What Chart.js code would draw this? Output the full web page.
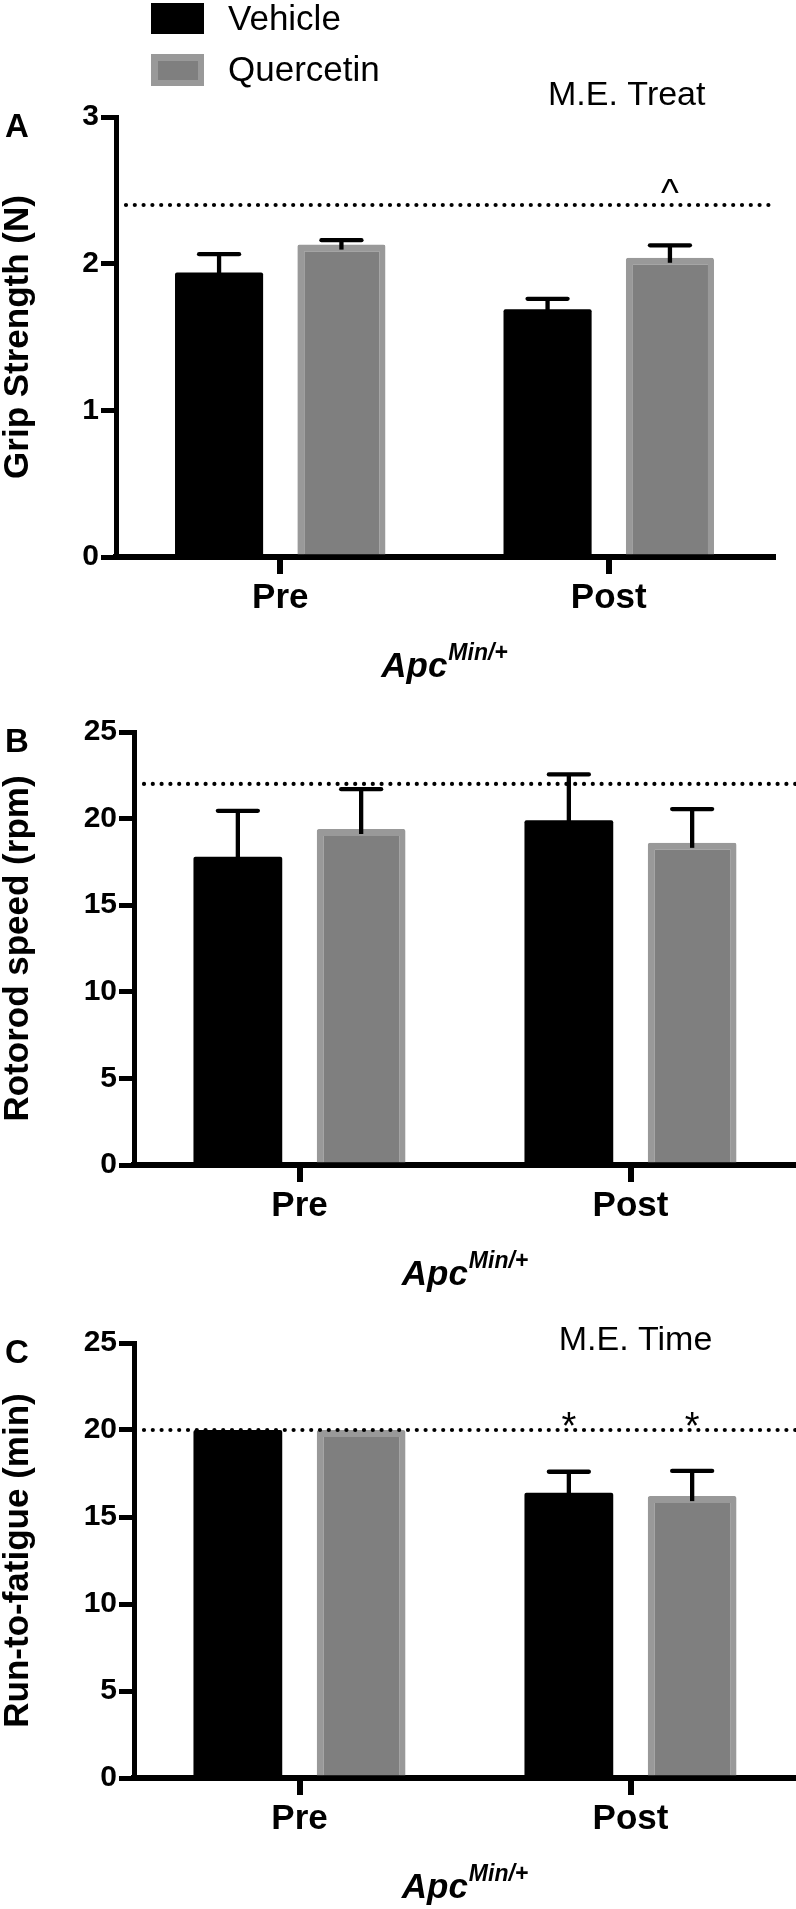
<!DOCTYPE html>
<html><head><meta charset="utf-8">
<script src="https://cdn.jsdelivr.net/npm/chart.js@4.4.1/dist/chart.umd.min.js"></script>
<style>
html,body{margin:0;padding:0;background:#fff;}
body{width:796px;height:1909px;position:relative;overflow:hidden;}
canvas{position:absolute;left:0;}
</style></head><body>
<canvas id="cA" width="796" height="700" style="top:0px"></canvas>
<canvas id="cB" width="796" height="610" style="top:700px"></canvas>
<canvas id="cC" width="796" height="599" style="top:1310px"></canvas>
<script>
// ---------- data ----------
const categories = ['Pre', 'Post'];
const seriesNames = ['Vehicle', 'Quercetin'];

// Panel A: grip strength (N)
const gripVehicle = [1.94, 1.69];
const gripVehicleSEM = [0.125, 0.07];
const gripQuercetin = [2.13, 2.04];
const gripQuercetinSEM = [0.03, 0.085];
const gripTicks = [0, 1, 2, 3];
const gripReference = 2.4;

// Panel B: rotorod speed (rpm)
const rotoVehicle = [17.8, 19.9];
const rotoVehicleSEM = [2.65, 2.65];
const rotoQuercetin = [19.4, 18.6];
const rotoQuercetinSEM = [2.3, 1.95];
const rotoTicks = [0, 5, 10, 15, 20, 25];
const rotoReference = 22;

// Panel C: run-to-fatigue (min)
const runVehicle = [20, 16.4];
const runVehicleSEM = [0, 1.2];
const runQuercetin = [20, 16.2];
const runQuercetinSEM = [0, 1.45];
const runTicks = [0, 5, 10, 15, 20, 25];
const runReference = 20;

const FONT = '"Liberation Sans", Arial, Helvetica, sans-serif';

// ---------- plugin for extras ----------
const extrasPlugin = {
  id: 'extras',
  afterDatasetsDraw(chart, args, p) {
    const ctx = chart.ctx, ys = chart.scales.y, area = chart.chartArea;
    // error bars (upper only)
    chart.data.datasets.forEach((ds, di) => {
      const meta = chart.getDatasetMeta(di);
      meta.data.forEach((bar, i) => {
        const sem = ds.sem[i];
        if (!sem) return;
        const yTop = ys.getPixelForValue(ds.data[i] + sem);
        const yBase = ys.getPixelForValue(ds.data[i]);
        ctx.save();
        ctx.strokeStyle = '#000';
        ctx.lineWidth = 4.3;
        ctx.beginPath(); ctx.moveTo(bar.x, yBase + 5); ctx.lineTo(bar.x, yTop); ctx.stroke();
        ctx.lineCap = 'round';
        ctx.beginPath(); ctx.moveTo(bar.x - 20, yTop); ctx.lineTo(bar.x + 20, yTop); ctx.stroke();
        ctx.restore();
      });
    });
    // dotted reference line
    const yr = ys.getPixelForValue(p.ref);
    ctx.save();
    ctx.strokeStyle = '#000';
    ctx.lineWidth = 4.2;
    ctx.lineCap = 'round';
    ctx.setLineDash([0, 8.8]);
    ctx.beginPath(); ctx.moveTo(area.left + 10, yr); ctx.lineTo(area.right, yr); ctx.stroke();
    ctx.restore();
  },
  afterDraw(chart, args, p) {
    const ctx = chart.ctx, ys = chart.scales.y, xs = chart.scales.x, area = chart.chartArea;
    ctx.save();
    ctx.fillStyle = '#000';
    // panel letter
    ctx.font = 'bold 33px ' + FONT;
    ctx.textAlign = 'left'; ctx.textBaseline = 'alphabetic';
    ctx.fillText(p.letter, 5, area.top + 20);
    // significance marks above bars
    ctx.font = '38px ' + FONT;
    ctx.textAlign = 'center';
    (p.marks || []).forEach(m => {
      const bar = chart.getDatasetMeta(m.dataset).data[m.index];
      ctx.fillText(m.text, bar.x, ys.getPixelForValue(m.value));
    });
    // notes
    ctx.font = '34px ' + FONT;
    (p.notes || []).forEach(n => {
      ctx.fillText(n.text, xs.getPixelForValue(n.index) + n.dx, ys.getPixelForValue(n.value));
    });
    // x axis title: Apc^Min/+
    ctx.textAlign = 'left';
    const mainFont = 'italic bold 35px ' + FONT, supFont = 'italic bold 23px ' + FONT;
    ctx.font = mainFont; const w1 = ctx.measureText('Apc').width;
    ctx.font = supFont; const w2 = ctx.measureText('Min/+').width;
    const cx = (area.left + area.right) / 2;
    const sx = cx - (w1 + w2 + 1) / 2;
    const base = area.bottom + 120;
    ctx.font = mainFont; ctx.fillText('Apc', sx, base);
    ctx.font = supFont; ctx.fillText('Min/+', sx + w1 + 1, base - 17);
    // legend
    if (p.legend) {
      chart.data.datasets.forEach((ds, i) => {
        const bx = 151, by = 3 + i * 51, bw = 53, bh = 31 + i;
        if (ds.borderWidth && typeof ds.borderWidth === 'object') {
          ctx.fillStyle = ds.borderColor; ctx.fillRect(bx, by, bw, bh);
          ctx.fillStyle = ds.backgroundColor; ctx.fillRect(bx + 7, by + 7, bw - 13, bh - 13);
        } else {
          ctx.fillStyle = ds.backgroundColor; ctx.fillRect(bx, by, bw, bh);
        }
        ctx.fillStyle = '#000';
        ctx.font = '35px ' + FONT;
        ctx.fillText(ds.label, 228, 30 + i * 51);
      });
    }
    ctx.restore();
  }
};

function makePanel(id, p) {
  return new Chart(document.getElementById(id), {
    type: 'bar',
    data: {
      labels: categories,
      datasets: [
        { label: seriesNames[0], data: p.vehicle, sem: p.vehicleSEM,
          backgroundColor: '#000000', borderWidth: 0, borderRadius: 2 },
        { label: seriesNames[1], data: p.quercetin, sem: p.quercetinSEM,
          backgroundColor: '#7f7f7f', borderColor: '#999999',
          borderWidth: { top: 7, left: 7, right: 6, bottom: 0 }, borderSkipped: 'start', borderRadius: 2 }
      ]
    },
    options: {
      responsive: false, devicePixelRatio: 1, animation: false,
      layout: { padding: { top: p.padTop, right: p.padRight, left: 0, bottom: 0 } },
      datasets: { bar: { categoryPercentage: 0.745, barPercentage: 0.72 } },
      plugins: { legend: { display: false }, tooltip: { enabled: false }, extras: p },
      scales: {
        x: {
          type: 'category', offset: true, z: 1,
          grid: { display: true, offset: false, drawOnChartArea: false, drawTicks: true, tickLength: 17,
                  lineWidth: 6, tickWidth: 6, color: '#000', tickColor: '#000' },
          border: { display: true, width: 6, color: '#000' },
          ticks: { color: '#000', font: { family: FONT, size: 35, weight: 'bold', lineHeight: 1.2 },
                   padding: 3, maxRotation: 0, autoSkip: false },
          afterFit: s => { s.height = p.xAxisH; }
        },
        y: {
          min: p.ticks[0], max: p.ticks[p.ticks.length - 1],
          afterBuildTicks: s => { s.ticks = p.ticks.map(v => ({ value: v })); },
          grid: { display: true, drawOnChartArea: false, drawTicks: true, tickLength: 15,
                  lineWidth: 5, tickWidth: 5, color: '#000', tickColor: '#000' },
          border: { display: true, width: 5, color: '#000' },
          ticks: { color: '#000', font: { family: FONT, size: 30, weight: 'bold' }, padding: 2 },
          title: { display: true, text: p.yTitle, color: '#000',
                   font: { family: FONT, size: 35, weight: 'bold', lineHeight: 1 }, padding: { top: 1, bottom: 0 } },
          afterFit: s => { s.width = p.yAxisW; }
        }
      }
    },
    plugins: [extrasPlugin]
  });
}

makePanel('cA', {
  vehicle: gripVehicle, vehicleSEM: gripVehicleSEM, quercetin: gripQuercetin, quercetinSEM: gripQuercetinSEM,
  ticks: gripTicks, ref: gripReference, yTitle: 'Grip Strength (N)', letter: 'A',
  padTop: 117, padRight: 23, xAxisH: 143, yAxisW: 116, legend: true,
  marks: [{ text: '^', dataset: 1, index: 1, value: 2.39 }],
  notes: [{ text: 'M.E. Treat', index: 1, dx: 18, value: 3.08 }]
});
makePanel('cB', {
  vehicle: rotoVehicle, vehicleSEM: rotoVehicleSEM, quercetin: rotoQuercetin, quercetinSEM: rotoQuercetinSEM,
  ticks: rotoTicks, ref: rotoReference, yTitle: 'Rotorod speed (rpm)', letter: 'B',
  padTop: 32, padRight: 0, xAxisH: 145, yAxisW: 134, legend: false, marks: [], notes: []
});
makePanel('cC', {
  vehicle: runVehicle, vehicleSEM: runVehicleSEM, quercetin: runQuercetin, quercetinSEM: runQuercetinSEM,
  ticks: runTicks, ref: runReference, yTitle: 'Run-to-fatigue (min)', letter: 'C',
  padTop: 33, padRight: 0, xAxisH: 131, yAxisW: 134, legend: false,
  marks: [{ text: '*', dataset: 0, index: 1, value: 19.48 }, { text: '*', dataset: 1, index: 1, value: 19.48 }],
  notes: [{ text: 'M.E. Time', index: 1, dx: 5, value: 24.6 }]
});
</script>
</body></html>
